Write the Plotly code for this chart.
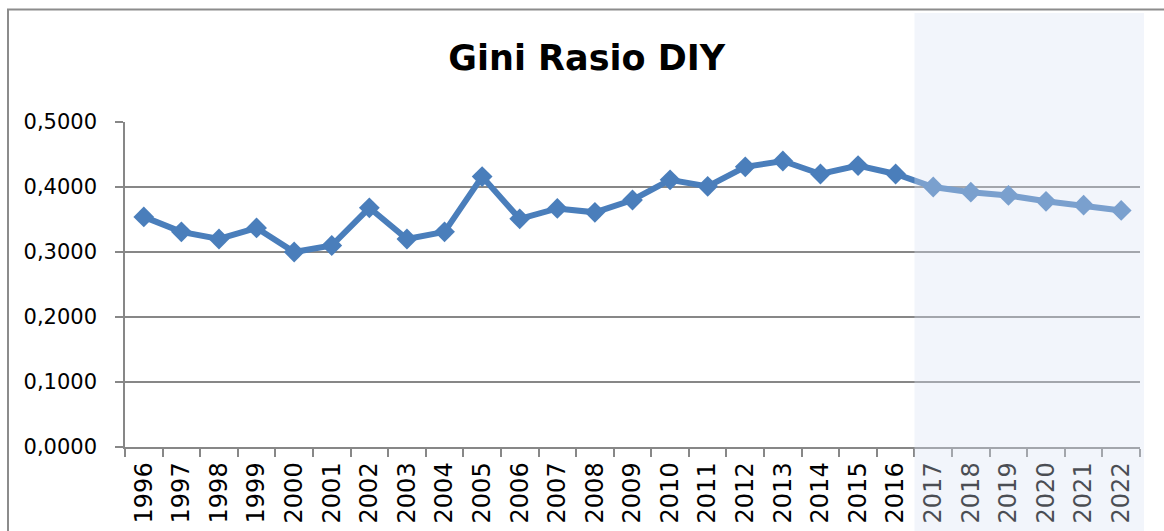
import plotly.graph_objects as go

# Gini ratio, D.I. Yogyakarta (2017 onward shown as projection band)
years = ["1996", "1997", "1998", "1999", "2000", "2001", "2002", "2003", "2004",
         "2005", "2006", "2007", "2008", "2009", "2010", "2011", "2012", "2013",
         "2014", "2015", "2016", "2017", "2018", "2019", "2020", "2021", "2022"]
gini = [0.354, 0.331, 0.320, 0.337, 0.300, 0.310, 0.368, 0.320, 0.331,
        0.416, 0.351, 0.367, 0.361, 0.380, 0.411, 0.401, 0.431, 0.440,
        0.420, 0.433, 0.420, 0.400, 0.392, 0.387, 0.378, 0.372, 0.364]
y_ticks = [0.0, 0.1, 0.2, 0.3, 0.4, 0.5]
projection_start = "2017"

W, H = 1164, 531
L, R, T, B = 125, 24, 122, 84
plot_w = W - L - R
plot_h = H - T - B

def px_to_paper_x(px):
    return (px - L) / plot_w

def px_to_paper_y(py):
    return (H - B - py) / plot_h

BLUE = "#4A7EBB"
GRID = "#878787"
FONT = "DejaVu Sans"

fig = go.Figure()
fig.add_trace(go.Scatter(
    x=years, y=gini, mode="lines+markers",
    line=dict(color=BLUE, width=6),
    marker=dict(symbol="diamond", size=16, color=BLUE, line=dict(width=0)),
    showlegend=False,
))

# projection band starts at the category boundary before the first projected year
idx = years.index(projection_start)
n = len(years)
band_x0 = idx / n

fig.add_shape(type="rect", xref="paper", yref="paper",
              x0=band_x0, x1=px_to_paper_x(1144),
              y0=px_to_paper_y(H + 5), y1=px_to_paper_y(13),
              fillcolor="rgba(217,227,244,0.34)", line=dict(width=0),
              layer="above")

# chart frame
fig.add_shape(type="rect", xref="paper", yref="paper",
              x0=px_to_paper_x(8), x1=px_to_paper_x(W + 20),
              y0=px_to_paper_y(H + 20), y1=px_to_paper_y(9.5),
              line=dict(color="#8C8C8C", width=2), fillcolor="rgba(0,0,0,0)",
              layer="below")

fig.update_layout(
    width=W, height=H,
    margin=dict(l=L, r=R, t=T, b=B, pad=0, autoexpand=False),
    paper_bgcolor="white", plot_bgcolor="rgba(0,0,0,0)",
    separators=",.",
    font=dict(family=FONT, color="black"),
    title=dict(text="<b>Gini Rasio DIY</b>", font=dict(family=FONT, size=35, color="black"),
               xref="container", x=586.7 / W, xanchor="center",
               yref="container", y=1 - 58 / H, yanchor="middle"),
)

fig.update_xaxes(
    type="category", range=[-0.5, n - 0.5], automargin=False,
    showgrid=False, showline=True, linecolor=GRID, linewidth=1.5,
    ticks="outside", tickson="boundaries", ticklen=8, tickcolor=GRID, tickwidth=1.5,
    tickangle=-90, tickfont=dict(family=FONT, size=24, color="black"),
    ticklabelstandoff=4,
)
fig.update_yaxes(
    range=[0, 0.5], tickvals=y_ticks, tickformat=".4f", automargin=False,
    showgrid=True, gridcolor=GRID, gridwidth=1.5,
    showline=True, linecolor=GRID, linewidth=1.5,
    ticks="outside", ticklen=8, tickcolor=GRID, tickwidth=1.5,
    tickfont=dict(family=FONT, size=21, color="black"),
    ticklabelstandoff=14, zeroline=False,
)

fig.write_html("out.html")
